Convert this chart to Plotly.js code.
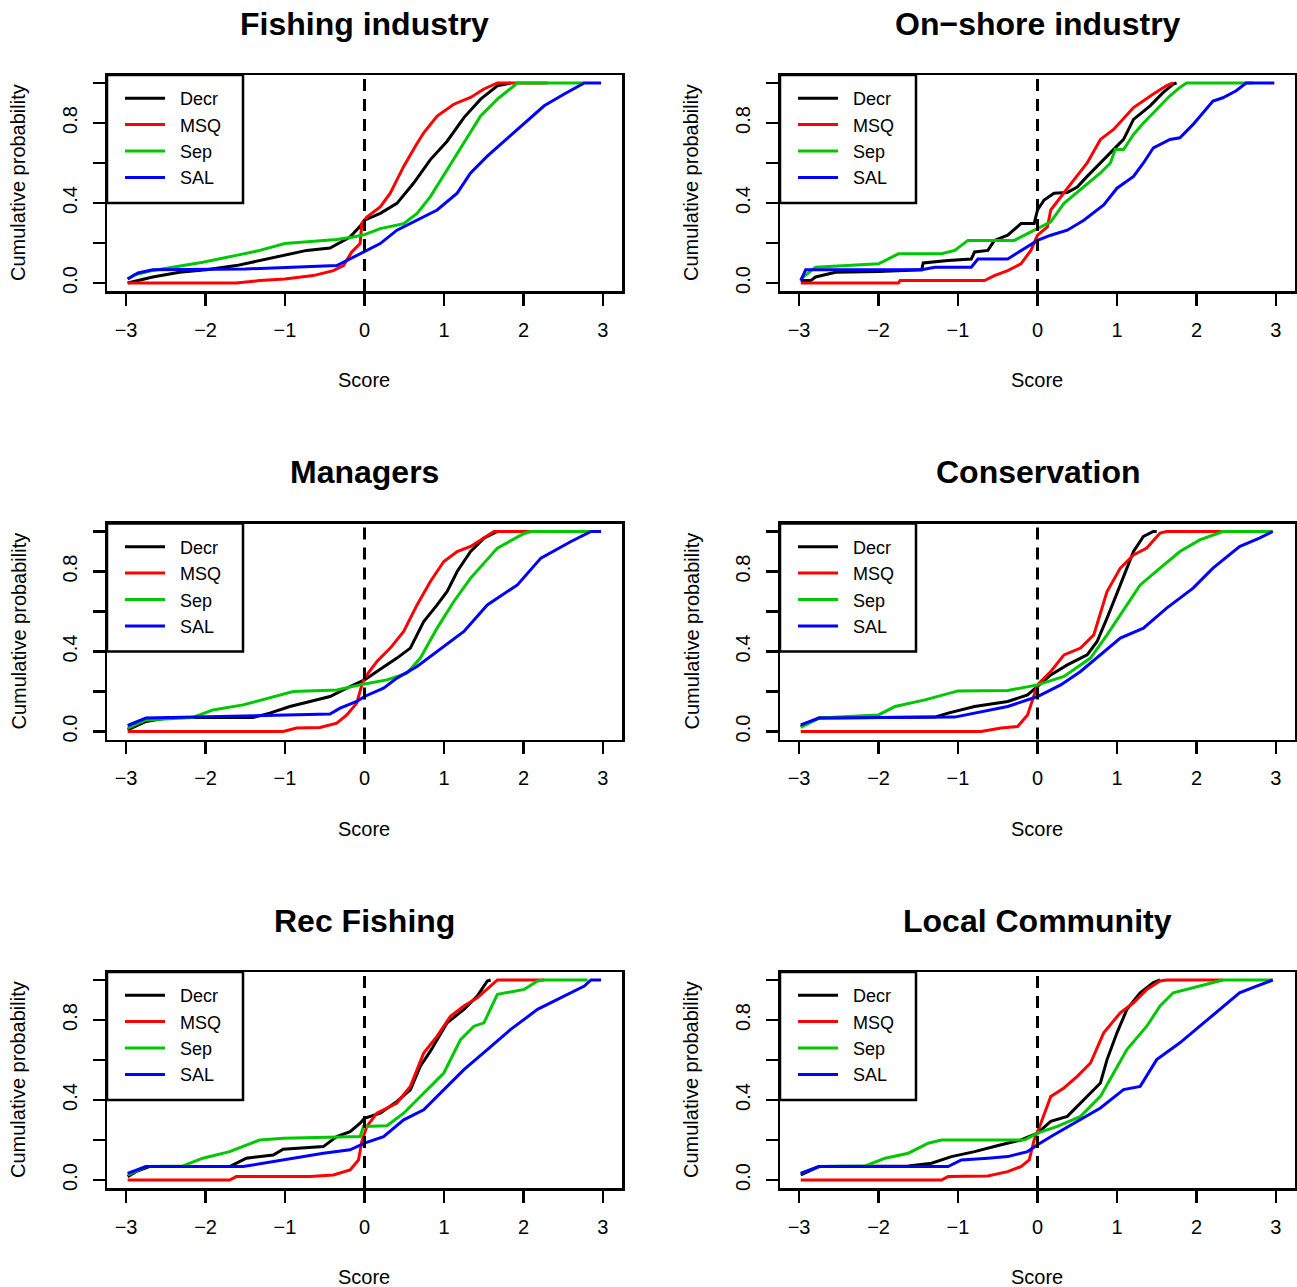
<!DOCTYPE html>
<html>
<head>
<meta charset="utf-8">
<script src="https://cdn.plot.ly/plotly-3.0.1.min.js"></script>
<style>
  html, body { margin: 0; padding: 0; background: #ffffff; }
  #chart { width: 1297px; height: 1287px; }
</style>
</head>
<body>
<div id="chart"></div>
<script>
// ---------- Data ----------
const panelTitles = ["Fishing industry", "On\u2212shore industry", "Managers", "Conservation", "Rec Fishing", "Local Community"];
const seriesNames = ["Decr", "MSQ", "Sep", "SAL"];
const seriesColors = ["#000000", "#FF0000", "#00C800", "#0000FF"];
const xTickVals = [-3, -2, -1, 0, 1, 2, 3];
const xTickText = ["\u22123", "\u22122", "\u22121", "0", "1", "2", "3"];
const yTickVals = [0, 0.2, 0.4, 0.6, 0.8, 1.0];
const yTickText = ["0.0", "", "0.4", "", "0.8", ""];
const xLabel = "Score";
const yLabel = "Cumulative probability";

// Panel 1: Fishing industry
const fish_decr_x = [-2.98, -2.665, -2.328, -1.992, -1.613, -1.318, -1.002, -0.728, -0.434, -0.181, -0.034, 0, 0.198, 0.408, 0.619, 0.829, 1.04, 1.251, 1.461, 1.672, 1.84];
const fish_decr_y = [0, 0.03, 0.054, 0.066, 0.087, 0.113, 0.138, 0.163, 0.175, 0.23, 0.294, 0.314, 0.348, 0.398, 0.5, 0.617, 0.709, 0.827, 0.919, 0.986, 1.0];
const fish_msq_x = [-2.98, -1.613, -1.318, -1.002, -0.644, -0.392, -0.265, -0.16, -0.055, -0.034, 0.029, 0.198, 0.324, 0.493, 0.64, 0.745, 0.914, 1.124, 1.335, 1.503, 1.672, 2.3];
const fish_msq_y = [0, 0, 0.012, 0.02, 0.037, 0.062, 0.087, 0.155, 0.197, 0.297, 0.33, 0.38, 0.449, 0.583, 0.684, 0.751, 0.835, 0.894, 0.928, 0.97, 1.0, 1.0];
const fish_sep_x = [-2.98, -2.9, -2.7, -2.455, -2.034, -1.613, -1.318, -1.002, -0.686, -0.349, -0.139, 0, 0.198, 0.493, 0.661, 0.829, 1.04, 1.251, 1.461, 1.672, 1.84, 1.924, 2.766];
const fish_sep_y = [0.02, 0.04, 0.06, 0.076, 0.104, 0.138, 0.163, 0.197, 0.208, 0.217, 0.23, 0.242, 0.272, 0.297, 0.348, 0.432, 0.566, 0.701, 0.835, 0.919, 0.97, 1.0, 1.0];
const fish_sal_x = [-2.98, -2.85, -2.665, -1.5, -0.349, -0.223, 0, 0.198, 0.408, 0.661, 0.914, 1.166, 1.335, 1.545, 1.756, 2.008, 2.261, 2.514, 2.766, 2.977];
const fish_sal_y = [0.02, 0.05, 0.066, 0.07, 0.087, 0.113, 0.155, 0.197, 0.264, 0.314, 0.365, 0.449, 0.55, 0.634, 0.709, 0.8, 0.886, 0.945, 1.0, 1.0];

// Panel 2: On-shore industry
const shore_decr_x = [-2.979, -2.854, -2.792, -2.542, -2.0, -1.458, -1.438, -1.125, -0.833, -0.792, -0.625, -0.542, -0.375, -0.208, -0.042, 0, 0.083, 0.208, 0.375, 0.5, 0.625, 0.792, 0.917, 1.083, 1.208, 1.417, 1.583, 1.708, 1.75];
const shore_decr_y = [0.012, 0.012, 0.03, 0.054, 0.057, 0.066, 0.1, 0.113, 0.12, 0.155, 0.163, 0.213, 0.239, 0.297, 0.297, 0.365, 0.415, 0.449, 0.452, 0.48, 0.533, 0.6, 0.65, 0.718, 0.818, 0.886, 0.953, 0.995, 1.0];
const shore_msq_x = [-2.979, -1.75, -1.729, -0.667, -0.542, -0.375, -0.208, -0.083, 0, 0.125, 0.167, 0.292, 0.458, 0.625, 0.792, 0.958, 1.208, 1.458, 1.625, 1.708];
const shore_msq_y = [0, 0, 0.012, 0.012, 0.037, 0.062, 0.096, 0.163, 0.239, 0.28, 0.365, 0.432, 0.516, 0.6, 0.718, 0.768, 0.877, 0.945, 0.987, 1.0];
const shore_sep_x = [-2.979, -2.792, -2.0, -1.75, -1.208, -1.042, -0.875, -0.292, -0.125, 0, 0.167, 0.333, 0.542, 0.792, 0.917, 0.979, 1.083, 1.208, 1.333, 1.5, 1.667, 1.792, 1.875, 2.708];
const shore_sep_y = [0.02, 0.079, 0.096, 0.146, 0.146, 0.163, 0.213, 0.213, 0.247, 0.272, 0.306, 0.398, 0.466, 0.55, 0.6, 0.667, 0.667, 0.743, 0.8, 0.869, 0.936, 0.978, 1.0, 1.0];
const shore_sal_x = [-2.979, -2.917, -1.458, -1.292, -0.833, -0.75, -0.375, -0.208, 0, 0.167, 0.375, 0.583, 0.833, 1.0, 1.208, 1.333, 1.458, 1.667, 1.792, 1.958, 2.208, 2.333, 2.5, 2.625, 2.98];
const shore_sal_y = [0.012, 0.066, 0.066, 0.079, 0.079, 0.12, 0.12, 0.163, 0.213, 0.239, 0.264, 0.314, 0.39, 0.474, 0.533, 0.6, 0.676, 0.718, 0.726, 0.793, 0.91, 0.926, 0.961, 1.0, 1.0];

// Panel 3: Managers
const man_decr_x = [-2.98, -2.749, -2.455, -1.402, -1.192, -0.939, -0.686, -0.434, -0.181, 0, 0.156, 0.408, 0.577, 0.745, 0.914, 1.04, 1.166, 1.335, 1.503, 1.672];
const man_decr_y = [0.008, 0.05, 0.07, 0.07, 0.092, 0.125, 0.15, 0.175, 0.225, 0.258, 0.3, 0.367, 0.417, 0.55, 0.633, 0.7, 0.8, 0.9, 0.967, 1.0];
const man_msq_x = [-2.98, -1.023, -0.855, -0.56, -0.349, -0.223, -0.097, -0.034, 0, 0.156, 0.324, 0.493, 0.661, 0.829, 0.998, 1.166, 1.335, 1.461, 1.629, 2.261];
const man_msq_y = [0, 0, 0.017, 0.02, 0.042, 0.083, 0.142, 0.233, 0.267, 0.35, 0.417, 0.5, 0.633, 0.75, 0.85, 0.9, 0.925, 0.958, 1.0, 1.0];
const man_sep_x = [-2.98, -2.749, -2.16, -1.907, -1.528, -1.192, -0.897, -0.349, 0, 0.282, 0.535, 0.703, 0.914, 1.124, 1.335, 1.672, 2.008, 2.093, 2.851];
const man_sep_y = [0.017, 0.058, 0.07, 0.108, 0.133, 0.167, 0.2, 0.208, 0.238, 0.258, 0.292, 0.367, 0.517, 0.65, 0.767, 0.917, 0.99, 1.0, 1.0];
const man_sal_x = [-2.98, -2.749, -0.434, -0.307, -0.097, 0, 0.24, 0.408, 0.661, 0.914, 1.251, 1.545, 1.924, 2.219, 2.598, 2.851, 2.977];
const man_sal_y = [0.03, 0.067, 0.087, 0.117, 0.15, 0.175, 0.217, 0.267, 0.325, 0.4, 0.5, 0.633, 0.733, 0.867, 0.95, 1.0, 1.0];

// Panel 4: Conservation
const cons_decr_x = [-2.979, -2.75, -1.292, -1.125, -0.792, -0.375, -0.125, 0, 0.167, 0.375, 0.625, 0.75, 0.875, 1.042, 1.208, 1.333, 1.458, 1.5];
const cons_decr_y = [0.025, 0.067, 0.072, 0.092, 0.125, 0.15, 0.183, 0.225, 0.283, 0.333, 0.383, 0.45, 0.567, 0.733, 0.9, 0.975, 1.0, 1.0];
const cons_msq_x = [-2.979, -0.708, -0.458, -0.25, -0.125, -0.042, 0, 0.167, 0.333, 0.542, 0.708, 0.875, 1.042, 1.208, 1.375, 1.542, 1.625, 2.333];
const cons_msq_y = [0, 0, 0.017, 0.025, 0.083, 0.183, 0.233, 0.3, 0.383, 0.417, 0.483, 0.7, 0.817, 0.883, 0.917, 0.992, 1.0, 1.0];
const cons_sep_x = [-2.979, -2.75, -2.0, -1.792, -1.417, -1.0, -0.375, 0, 0.333, 0.667, 0.875, 1.125, 1.292, 1.542, 1.792, 2.042, 2.333, 2.96];
const cons_sep_y = [0.02, 0.067, 0.083, 0.125, 0.158, 0.203, 0.205, 0.233, 0.275, 0.367, 0.483, 0.633, 0.733, 0.817, 0.9, 0.958, 1.0, 1.0];
const cons_sal_x = [-2.979, -2.75, -1.042, -0.708, -0.375, 0, 0.292, 0.542, 0.792, 1.042, 1.333, 1.625, 1.958, 2.208, 2.542, 2.792, 2.96];
const cons_sal_y = [0.033, 0.067, 0.072, 0.1, 0.125, 0.175, 0.233, 0.3, 0.383, 0.467, 0.517, 0.617, 0.717, 0.817, 0.925, 0.967, 1.0];

// Panel 5: Rec Fishing
const rec_decr_x = [-2.98, -2.876, -2.707, -1.697, -1.486, -1.149, -1.023, -0.518, -0.349, -0.181, -0.055, 0, 0.198, 0.408, 0.577, 0.703, 0.829, 1.04, 1.251, 1.419, 1.545, 1.587];
const rec_decr_y = [0.017, 0.042, 0.067, 0.067, 0.109, 0.125, 0.154, 0.167, 0.217, 0.242, 0.284, 0.309, 0.334, 0.393, 0.451, 0.569, 0.644, 0.786, 0.853, 0.92, 0.995, 1.0];
const rec_msq_x = [-2.98, -1.697, -1.613, -0.686, -0.392, -0.181, -0.076, -0.034, 0.029, 0.156, 0.408, 0.577, 0.745, 0.914, 1.082, 1.251, 1.419, 1.545, 1.672, 2.261];
const rec_msq_y = [0, 0, 0.017, 0.017, 0.025, 0.05, 0.1, 0.192, 0.268, 0.334, 0.385, 0.468, 0.635, 0.719, 0.819, 0.87, 0.911, 0.953, 1.0, 1.0];
const rec_sep_x = [-2.98, -2.749, -2.286, -2.034, -1.697, -1.318, -1.023, -0.518, -0.055, -0.013, 0.282, 0.493, 0.745, 0.998, 1.208, 1.377, 1.503, 1.672, 2.008, 2.177, 2.261, 2.808];
const rec_sep_y = [0.025, 0.067, 0.07, 0.109, 0.142, 0.2, 0.209, 0.212, 0.217, 0.268, 0.271, 0.334, 0.435, 0.535, 0.702, 0.769, 0.786, 0.928, 0.953, 0.995, 1.0, 1.0];
const rec_sal_x = [-2.98, -2.749, -1.528, -1.276, -0.939, -0.518, -0.181, 0, 0.24, 0.493, 0.745, 0.998, 1.251, 1.545, 1.84, 2.177, 2.514, 2.766, 2.851, 2.977];
const rec_sal_y = [0.033, 0.067, 0.067, 0.084, 0.109, 0.134, 0.151, 0.184, 0.217, 0.301, 0.351, 0.452, 0.552, 0.652, 0.753, 0.853, 0.92, 0.97, 1.0, 1.0];

// Panel 6: Local Community
const loc_decr_x = [-2.979, -2.75, -1.625, -1.333, -1.083, -0.792, -0.458, -0.208, 0, 0.167, 0.375, 0.625, 0.792, 0.875, 1.0, 1.125, 1.292, 1.458, 1.542];
const loc_decr_y = [0.025, 0.067, 0.07, 0.084, 0.117, 0.142, 0.176, 0.2, 0.234, 0.293, 0.318, 0.418, 0.485, 0.602, 0.736, 0.853, 0.936, 0.987, 1.0];
const loc_msq_x = [-2.979, -1.208, -1.125, -0.625, -0.375, -0.208, -0.104, -0.042, 0.042, 0.167, 0.333, 0.5, 0.667, 0.833, 1.042, 1.208, 1.375, 1.542, 1.625, 2.333];
const loc_msq_y = [0, 0, 0.017, 0.02, 0.042, 0.067, 0.1, 0.2, 0.284, 0.418, 0.46, 0.518, 0.585, 0.736, 0.836, 0.886, 0.953, 0.995, 1.0, 1.0];
const loc_sep_x = [-2.979, -2.75, -2.167, -1.917, -1.625, -1.375, -1.208, -0.167, 0, 0.25, 0.542, 0.792, 0.958, 1.125, 1.375, 1.542, 1.708, 2.042, 2.333, 2.96];
const loc_sep_y = [0.033, 0.067, 0.07, 0.109, 0.134, 0.184, 0.2, 0.2, 0.234, 0.268, 0.318, 0.418, 0.535, 0.652, 0.769, 0.87, 0.936, 0.97, 1.0, 1.0];
const loc_sal_x = [-2.979, -2.75, -1.125, -0.958, -0.625, -0.375, -0.125, 0, 0.208, 0.458, 0.792, 1.083, 1.292, 1.5, 1.792, 2.042, 2.292, 2.542, 2.708, 2.96];
const loc_sal_y = [0.033, 0.067, 0.067, 0.1, 0.109, 0.117, 0.142, 0.176, 0.226, 0.284, 0.36, 0.452, 0.468, 0.602, 0.686, 0.769, 0.853, 0.936, 0.962, 1.0];

const panelData = [
  [[fish_decr_x, fish_decr_y], [fish_msq_x, fish_msq_y], [fish_sep_x, fish_sep_y], [fish_sal_x, fish_sal_y]],
  [[shore_decr_x, shore_decr_y], [shore_msq_x, shore_msq_y], [shore_sep_x, shore_sep_y], [shore_sal_x, shore_sal_y]],
  [[man_decr_x, man_decr_y], [man_msq_x, man_msq_y], [man_sep_x, man_sep_y], [man_sal_x, man_sal_y]],
  [[cons_decr_x, cons_decr_y], [cons_msq_x, cons_msq_y], [cons_sep_x, cons_sep_y], [cons_sal_x, cons_sal_y]],
  [[rec_decr_x, rec_decr_y], [rec_msq_x, rec_msq_y], [rec_sep_x, rec_sep_y], [rec_sal_x, rec_sal_y]],
  [[loc_decr_x, loc_decr_y], [loc_msq_x, loc_msq_y], [loc_sep_x, loc_sep_y], [loc_sal_x, loc_sal_y]]
];

// ---------- Layout geometry (pixels in a 1297 x 1287 page) ----------
const W = 1297, H = 1287;
const FONT = "Liberation Sans, Arial, Helvetica, sans-serif";
const colLeft = [107, 780];          // plot box left edges
const boxW = 515;
const rowTop = [75, 523.5, 972];     // plot box top edges
const boxH = 216;
const legW = 136, legH = 128;        // legend frame size
const fx = p => p / W;
const fy = p => 1 - p / H;

const traces = [];
const layout = {
  width: W, height: H,
  margin: {l: 0, r: 0, t: 0, b: 0, pad: 0},
  paper_bgcolor: "#ffffff",
  plot_bgcolor: "#ffffff",
  font: {family: FONT, color: "#000000", size: 20},
  shapes: [],
  annotations: [],
  hovermode: false
};

panelData.forEach((panel, i) => {
  const col = i % 2, row = Math.floor(i / 2);
  const ax = i === 0 ? "" : String(i + 1);
  const xName = "xaxis" + ax, yName = "yaxis" + ax;
  const xRef = "x" + ax, yRef = "y" + ax;
  const legName = i === 0 ? "legend" : "legend" + (i + 1);
  const left = colLeft[col], top = rowTop[row];

  layout[xName] = {
    domain: [fx(left), fx(left + boxW)],
    anchor: yRef,
    range: [-3.24, 3.24],
    tickmode: "array", tickvals: xTickVals, ticktext: xTickText,
    ticks: "outside", ticklen: 12, tickwidth: 2.5, tickcolor: "#000",
    showline: true, mirror: true, linewidth: 2.5, linecolor: "#000",
    showgrid: false, zeroline: false,
    tickfont: {family: FONT, size: 20, color: "#000"},
    ticklabelstandoff: 7,
    fixedrange: true
  };
  layout[yName] = {
    domain: [fy(top + boxH), fy(top)],
    anchor: xRef,
    range: [-0.04, 1.04],
    tickmode: "array", tickvals: yTickVals, ticktext: yTickText,
    tickangle: -90,
    ticks: "outside", ticklen: 12, tickwidth: 2.5, tickcolor: "#000",
    showline: true, mirror: true, linewidth: 2.5, linecolor: "#000",
    showgrid: false, zeroline: false,
    tickfont: {family: FONT, size: 20, color: "#000"},
    ticklabelstandoff: 8,
    fixedrange: true
  };

  panel.forEach((s, k) => {
    traces.push({
      type: "scatter", mode: "lines",
      x: s[0], y: s[1],
      name: "\u00a0\u00a0" + seriesNames[k],
      xaxis: xRef, yaxis: yRef,
      legend: legName,
      line: {color: seriesColors[k], width: 3},
      showlegend: true
    });
  });

  // legend frame (white box with black border, drawn over the curves)
  layout.shapes.push({
    type: "rect", xref: "paper", yref: "paper", layer: "above",
    x0: fx(left), x1: fx(left + legW), y0: fy(top + legH), y1: fy(top),
    fillcolor: "#ffffff", line: {color: "#000", width: 2.5}
  });
  layout[legName] = {
    x: fx(left + 13), y: fy(top + 5), xanchor: "left", yanchor: "top",
    xref: "paper", yref: "paper",
    bgcolor: "rgba(0,0,0,0)", borderwidth: 0,
    font: {family: FONT, size: 18, color: "#000"},
    itemwidth: 40,
    tracegroupgap: 0
  };

  // dashed vertical reference line at score 0
  layout.shapes.push({
    type: "line", xref: xRef, yref: yRef + " domain",
    x0: 0, x1: 0, y0: 0, y1: 1,
    line: {color: "#000", width: 3, dash: "12px,8px"}
  });

  // panel title
  layout.annotations.push({
    text: "<b>" + panelTitles[i] + "</b>",
    xref: "paper", yref: "paper",
    x: fx(left + boxW / 2), y: fy(top - 51),
    xanchor: "center", yanchor: "middle", showarrow: false,
    font: {family: FONT, size: 32, color: "#000"}
  });
  // x-axis label
  layout.annotations.push({
    text: xLabel, xref: "paper", yref: "paper",
    x: fx(left + 257), y: fy(top + 305),
    xanchor: "center", yanchor: "middle", showarrow: false,
    font: {family: FONT, size: 20, color: "#000"}
  });
  // y-axis label
  layout.annotations.push({
    text: yLabel, xref: "paper", yref: "paper",
    x: fx(left - 89), y: fy(top + boxH / 2),
    xanchor: "center", yanchor: "middle", showarrow: false, textangle: -90,
    font: {family: FONT, size: 20, color: "#000"}
  });
});

Plotly.newPlot("chart", traces, layout, {staticPlot: true, displayModeBar: false});
</script>
</body>
</html>
